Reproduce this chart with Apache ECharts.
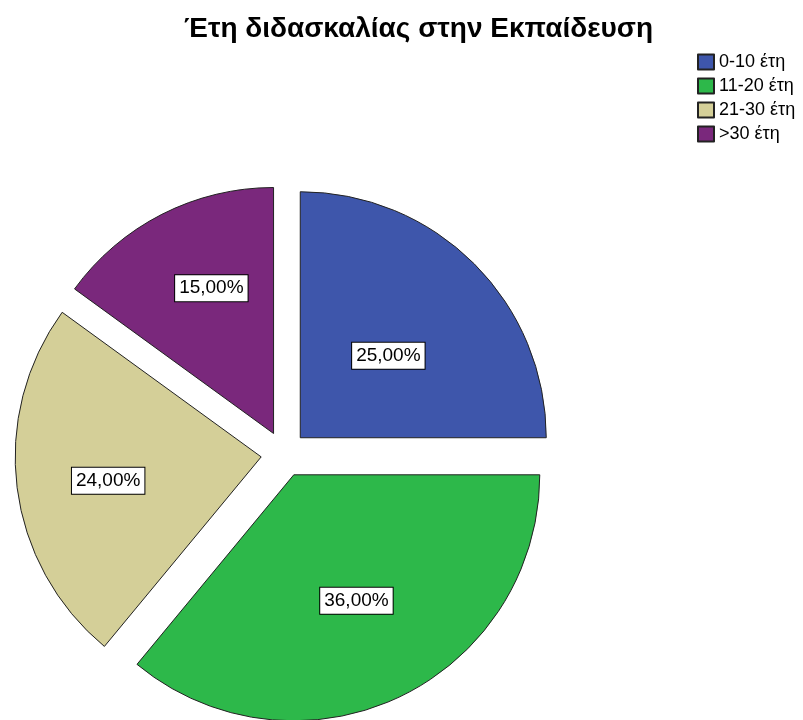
<!DOCTYPE html>
<html>
<head>
<meta charset="utf-8">
<script src="https://cdn.jsdelivr.net/npm/echarts@6/dist/echarts.min.js"></script>
<style>
  html, body { margin: 0; padding: 0; background: #fff; }
  #chart { width: 803px; height: 720px; }
</style>
</head>
<body>
<div id="chart"></div>
<script>
// Years of teaching experience (share of respondents, %)
const categories = ['0-10 έτη', '11-20 έτη', '21-30 έτη', '>30 έτη'];
const shares = [25, 36, 24, 15];

// Slice colours, one per category
const sliceColors = ['#3e56ab', '#2db84a', '#d4cf98', '#7a287c'];
// Small nudges for the in-slice percentage boxes
const labelNudge = [[-1, 7], [9, 12], [-28, 8], [-5, -33]];

const fmt = v => v.toFixed(2).replace('.', ',') + '%';
const font = '"Liberation Sans", Arial, sans-serif';

const chart = echarts.init(document.getElementById('chart'), null, { renderer: 'canvas' });

chart.setOption({
  animation: false,
  backgroundColor: '#ffffff',
  title: {
    text: 'Έτη διδασκαλίας στην Εκπαίδευση',
    left: 184,
    top: 15,
    padding: 0,
    textStyle: {
      fontFamily: font,
      fontSize: 28,
      fontWeight: 'bold',
      color: '#000'
    }
  },
  legend: {
    orient: 'vertical',
    left: 697,
    top: 52,
    padding: 0,
    itemWidth: 16,
    itemHeight: 15,
    itemGap: 4,
    icon: 'rect',
    selectedMode: false,
    textStyle: {
      fontFamily: font,
      fontSize: 18,
      lineHeight: 20,
      color: '#000'
    },
    data: categories
  },
  series: [{
    type: 'pie',
    center: [284, 454],
    radius: 246,
    startAngle: 90,
    clockwise: true,
    selectedMode: 'multiple',
    selectedOffset: 23,
    avoidLabelOverlap: false,
    emphasis: { disabled: true },
    itemStyle: { borderColor: '#222', borderWidth: 1 },
    label: {
      show: true,
      position: 'inside',
      formatter: p => fmt(p.value),
      fontFamily: font,
      fontSize: 19,
      color: '#000',
      backgroundColor: '#fff',
      borderColor: '#000',
      borderWidth: 1,
      padding: [4, 4, 3, 4]
    },
    labelLayout: p => ({ dx: labelNudge[p.dataIndex][0], dy: labelNudge[p.dataIndex][1] }),
    labelLine: { show: false },
    data: categories.map((name, i) => ({
      name,
      value: shares[i],
      selected: true,
      itemStyle: { color: sliceColors[i] }
    }))
  }]
});
</script>
</body>
</html>
